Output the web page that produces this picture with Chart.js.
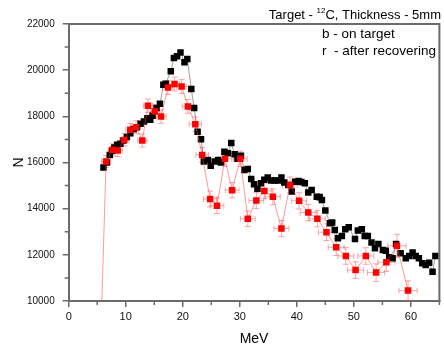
<!DOCTYPE html>
<html><head><meta charset="utf-8">
<script src="https://cdn.jsdelivr.net/npm/chart.js@4.4.0/dist/chart.umd.min.js"></script>
<style>html,body{margin:0;padding:0;background:#fff}#wrap{width:444px;height:347px;position:relative}</style>
</head><body><div id="wrap"><canvas id="c" width="444" height="347"></canvas></div>
<script>
// ---- data (MeV, N) ----
const blackX = [6.1,6.7,7.2,7.6,8.0,8.5,9.05,9.6,10.2,10.8,11.4,11.95,12.6,13.2,13.8,14.3,14.7,15.4,16.0,16.6,17.0,17.9,18.45,19.0,19.6,20.3,20.8,21.5,22.0,22.6,23.2,23.7,24.4,24.9,25.6,26.2,26.7,27.3,27.9,28.5,29.1,29.6,30.2,30.8,31.4,32.0,32.5,33.1,33.7,34.3,34.9,35.5,36.1,36.7,37.3,37.8,38.5,39.1,39.7,40.3,40.8,41.4,42.0,42.6,43.5,44.0,44.4,45.0,45.8,46.2,46.65,47.2,47.9,48.5,49.1,50.2,50.7,51.4,51.9,52.45,53.1,53.7,54.3,55.1,55.6,56.2,56.8,57.4,58.2,59.1,59.7,60.3,60.85,61.4,62.0,62.6,63.2,63.8,64.3];
const blackY = [15780,16000,16330,16500,16650,16770,16810,16950,17100,17270,17450,17530,17680,17780,17920,17850,18020,18360,18540,19370,19410,19950,20530,20600,20770,20340,20480,19180,18360,17330,17010,16040,16110,15860,16040,16110,16000,16470,16400,16850,16360,16160,16290,15680,15720,15280,15060,14860,15100,15250,15350,15220,15220,15220,15350,15130,15030,14740,15170,15200,15150,15100,14700,14810,14520,14500,14380,13920,13370,13400,13080,12720,12820,13110,13200,12690,13050,13110,12820,12820,12530,12290,12470,12210,12180,11900,11850,12470,12070,11850,11950,12100,11950,11850,11640,11560,11660,11270,11950];
const redX = [4.6,6.55,7.7,8.6,9.75,10.8,11.8,12.9,13.9,15.1,16.2,17.4,18.55,19.8,20.9,22.2,23.4,24.8,26.0,27.4,28.65,30.1,31.4,32.9,34.3,35.8,37.3,38.8,40.4,42.0,43.6,45.2,46.9,48.6,50.3,52.1,53.9,55.7,57.55,59.5];
const redY = [0,16040,16550,16520,16980,17420,17530,16950,18460,18210,17990,19250,19400,19290,18430,17660,16330,14420,14130,16160,14800,16160,13560,14350,14770,14520,13140,15030,14340,13830,13560,12980,12330,11950,11340,11950,11230,11680,12390,10450];
const redXErr = [0,0.8,0.8,0.8,0.8,0.8,0.8,0.8,0.8,0.8,0.9,0.9,0.9,0.9,1.0,1.1,1.1,1.2,1.2,1.2,1.2,1.2,1.3,1.3,1.3,1.3,1.3,1.3,1.3,1.4,1.4,1.4,1.4,1.4,1.4,1.4,1.5,1.5,1.6,1.6];
const redYErr = [0,260,260,260,270,270,280,280,290,290,290,300,300,300,300,310,320,340,340,320,330,330,340,340,340,340,350,340,350,350,350,360,360,360,360,360,380,400,500,420];
const xTickStep = 10, yTickStep = 2000;
const xMin = 0, xMax = 65, yMin = 10000, yMax = 22000;

const AX = '#6b6b6b';
const FONT = '"Liberation Sans", Arial, sans-serif';

const errPlugin = {
  id: 'err',
  beforeDatasetsDraw(chart) {
    const {ctx, chartArea: a, scales: {x, y}} = chart;
    ctx.save();
    ctx.beginPath(); ctx.rect(a.left, a.top, a.right - a.left, a.bottom - a.top); ctx.clip();
    ctx.strokeStyle = 'rgba(255,80,80,0.5)'; ctx.lineWidth = 1;
    redX.forEach((v, i) => {
      const px = x.getPixelForValue(v), py = y.getPixelForValue(redY[i]);
      const xl = x.getPixelForValue(v - redXErr[i]), xr = x.getPixelForValue(v + redXErr[i]);
      const yt = y.getPixelForValue(redY[i] + redYErr[i]), yb = y.getPixelForValue(redY[i] - redYErr[i]);
      ctx.beginPath();
      ctx.moveTo(xl, py); ctx.lineTo(xr, py);
      ctx.moveTo(px, yt); ctx.lineTo(px, yb);
      ctx.moveTo(xl, py - 3); ctx.lineTo(xl, py + 3);
      ctx.moveTo(xr, py - 3); ctx.lineTo(xr, py + 3);
      ctx.moveTo(px - 3, yt); ctx.lineTo(px + 3, yt);
      ctx.moveTo(px - 3, yb); ctx.lineTo(px + 3, yb);
      ctx.stroke();
    });
    ctx.restore();
  }
};

const framePlugin = {
  id: 'frame',
  afterDraw(chart) {
    const {ctx, chartArea: a, scales: {x, y}} = chart;
    ctx.save();
    ctx.strokeStyle = AX; ctx.lineWidth = 2;
    ctx.beginPath();
    ctx.moveTo(a.left, a.top); ctx.lineTo(a.right, a.top); ctx.lineTo(a.right, a.bottom);
    ctx.stroke();
    // minor ticks
    ctx.lineWidth = 1.5;
    ctx.beginPath();
    for (let v = xMin + 5; v <= xMax; v += 10) {
      const px = x.getPixelForValue(v);
      ctx.moveTo(px, a.bottom); ctx.lineTo(px, a.bottom + 4);
    }
    for (let v = yMin + 1000; v < yMax; v += 2000) {
      const py = y.getPixelForValue(v);
      ctx.moveTo(a.left, py); ctx.lineTo(a.left - 4, py);
    }
    ctx.stroke();
    // texts
    ctx.fillStyle = '#000';
    ctx.font = '14px ' + FONT;
    ctx.textAlign = 'center'; ctx.textBaseline = 'alphabetic';
    ctx.fillText('MeV', (a.left + a.right) / 2, 343);
    ctx.save();
    ctx.translate(23, (a.top + a.bottom) / 2);
    ctx.rotate(-Math.PI / 2);
    ctx.fillText('N', 0, 0);
    ctx.restore();
    // title with superscript
    ctx.textAlign = 'left';
    const f1 = '13px ' + FONT, f2 = '8px ' + FONT;
    const p1 = 'Target - ', sup = '12', p2 = 'C, Thickness - 5mm';
    ctx.font = f1; const w1 = ctx.measureText(p1).width, w3 = ctx.measureText(p2).width;
    ctx.font = f2; const w2 = ctx.measureText(sup).width;
    let tx = 441 - (w1 + w2 + w3);
    ctx.font = f1; ctx.fillText(p1, tx, 18.5); tx += w1;
    ctx.font = f2; ctx.fillText(sup, tx, 12.5); tx += w2;
    ctx.font = f1; ctx.fillText(p2, tx, 18.5);
    // legend texts
    ctx.font = '13.5px ' + FONT;
    ctx.fillText('b - on target', 322, 37.5);
    ctx.fillText('r  - after recovering', 322, 55);
    ctx.restore();
  }
};

new Chart(document.getElementById('c'), {
  type: 'scatter',
  data: {
    datasets: [
      {
        label: 'r - after recovering',
        data: redX.map((v, i) => ({x: v, y: redY[i]})),
        showLine: true, borderColor: 'rgba(255,70,70,0.55)', borderWidth: 1,
        pointStyle: 'rect', pointRadius: 4.6, pointBackgroundColor: '#ff0000',
        pointBorderColor: '#ff0000', pointBorderWidth: 0, order: 0
      },
      {
        label: 'b - on target',
        data: blackX.map((v, i) => ({x: v, y: blackY[i]})),
        showLine: true, borderColor: 'rgba(80,80,80,0.55)', borderWidth: 1,
        pointStyle: 'rect', pointRadius: 4.6, pointBackgroundColor: '#000',
        pointBorderColor: '#000', pointBorderWidth: 0, order: 1
      }
    ]
  },
  options: {
    responsive: false, animation: false,
    layout: {padding: {top: 24, right: 2, left: 0.7, bottom: 0}},
    plugins: {legend: {display: false}, tooltip: {enabled: false}, title: {display: false}},
    scales: {
      x: {
        type: 'linear', min: xMin, max: xMax,
        ticks: {stepSize: xTickStep, includeBounds: false, autoSkip: false, maxRotation: 0,
          padding: 3, color: '#111', font: {family: FONT, size: 11}, callback: v => String(v)},
        grid: {drawOnChartArea: false, drawTicks: true, tickLength: 6, color: AX, lineWidth: 1.5},
        border: {color: AX, width: 2},
        afterFit: s => { s.height = 46; }
      },
      y: {
        type: 'linear', min: yMin, max: yMax,
        ticks: {stepSize: yTickStep, autoSkip: false, padding: 8, color: '#111',
          font: {family: FONT, size: 10}, callback: v => String(v)},
        grid: {drawOnChartArea: false, drawTicks: true, tickLength: 6, color: AX, lineWidth: 1.5},
        border: {color: AX, width: 2},
        afterFit: s => { s.width = 68; }
      }
    }
  },
  plugins: [errPlugin, framePlugin]
});
</script></body></html>
